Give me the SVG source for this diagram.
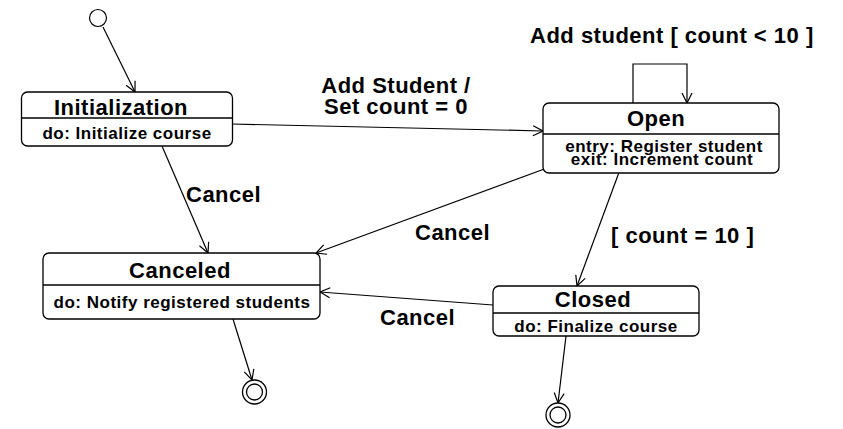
<svg xmlns="http://www.w3.org/2000/svg" width="843" height="429" viewBox="0 0 843 429">
<style>
.box{fill:#fff;stroke:#000;stroke-width:1.3}
.div{stroke:#000;stroke-width:1.3}
.ttl{font-family:"Liberation Sans",Arial,sans-serif;font-weight:bold;font-size:22px;letter-spacing:0.5px;fill:#000}
.sub{font-family:"Liberation Sans",Arial,sans-serif;font-weight:bold;font-size:17px;letter-spacing:0.5px;fill:#000}
.lbl{font-family:"Liberation Sans",Arial,sans-serif;font-weight:bold;font-size:22px;letter-spacing:0.5px;fill:#000}
.c{text-anchor:middle}
.edge{fill:none;stroke:#000;stroke-width:1.2;marker-end:url(#arr)}
.ring{fill:#fff;stroke:#000;stroke-width:1.3}
</style>
<defs>
<marker id="arr" viewBox="0 0 12 12" refX="11" refY="6" markerWidth="12" markerHeight="12" markerUnits="userSpaceOnUse" orient="auto">
<path d="M1,1 L11,6 L1,11" fill="none" stroke="#000" stroke-width="1.2"/>
</marker>
</defs>
<rect width="843" height="429" fill="#fff"/>
<g id="connectors">
<line class="edge" x1="103" y1="27" x2="135" y2="92"/>
<line class="edge" x1="232" y1="124" x2="543" y2="131"/>
<polyline class="edge" points="633,103 633,64 687,64 687,103"/>
<line class="edge" x1="162" y1="146" x2="208" y2="253"/>
<line class="edge" x1="547" y1="168" x2="316" y2="253"/>
<line class="edge" x1="621" y1="167" x2="577" y2="286"/>
<line class="edge" x1="493" y1="305" x2="320" y2="292"/>
<line class="edge" x1="233" y1="319" x2="252" y2="380"/>
<line class="edge" x1="566" y1="336" x2="558" y2="403"/>
<text class="lbl" x="530" y="43">Add student [ count &lt; 10 ]</text>
<text class="lbl c" x="396" y="93">Add Student /</text>
<text class="lbl c" x="396" y="114">Set count = 0</text>
<text class="lbl" x="186" y="202">Cancel</text>
<text class="lbl" x="415" y="240">Cancel</text>
<text class="lbl" x="611" y="243">[ count = 10 ]</text>
<text class="lbl" x="380" y="325">Cancel</text>
</g>
<g id="initial">
<circle cx="98" cy="18" r="8.5" fill="#fff" stroke="#000" stroke-width="1.2"/>
</g>
<g id="initialization">
<rect class="box" x="21.5" y="92" width="211" height="54" rx="6"/>
<line class="div" x1="21.5" y1="118" x2="232.5" y2="118"/>
<text class="ttl c" x="121" y="115">Initialization</text>
<text class="sub c" x="127" y="139">do: Initialize course</text>
</g>
<g id="open">
<rect class="box" x="543" y="103" width="236" height="70" rx="6"/>
<line class="div" x1="543" y1="134" x2="779" y2="134"/>
<text class="ttl c" x="656" y="126">Open</text>
<text class="sub c" x="664" y="152">entry: Register student</text>
<text class="sub c" x="662" y="165">exit: Increment count</text>
</g>
<g id="canceled">
<rect class="box" x="43" y="253" width="277" height="66" rx="6"/>
<line class="div" x1="43" y1="285" x2="320" y2="285"/>
<text class="ttl c" x="180" y="278">Canceled</text>
<text class="sub c" x="182" y="308">do: Notify registered students</text>
</g>
<g id="closed">
<rect class="box" x="493" y="286" width="206" height="50" rx="6"/>
<line class="div" x1="493" y1="313" x2="699" y2="313"/>
<text class="ttl c" x="593" y="307">Closed</text>
<text class="sub c" x="596" y="332">do: Finalize course</text>
</g>
<g id="final1">
<circle class="ring" cx="254.5" cy="392" r="12"/>
<circle class="ring" cx="254.5" cy="392" r="8"/>
</g>
<g id="final2">
<circle class="ring" cx="558" cy="415" r="12"/>
<circle class="ring" cx="558" cy="415" r="8"/>
</g>
</svg>
